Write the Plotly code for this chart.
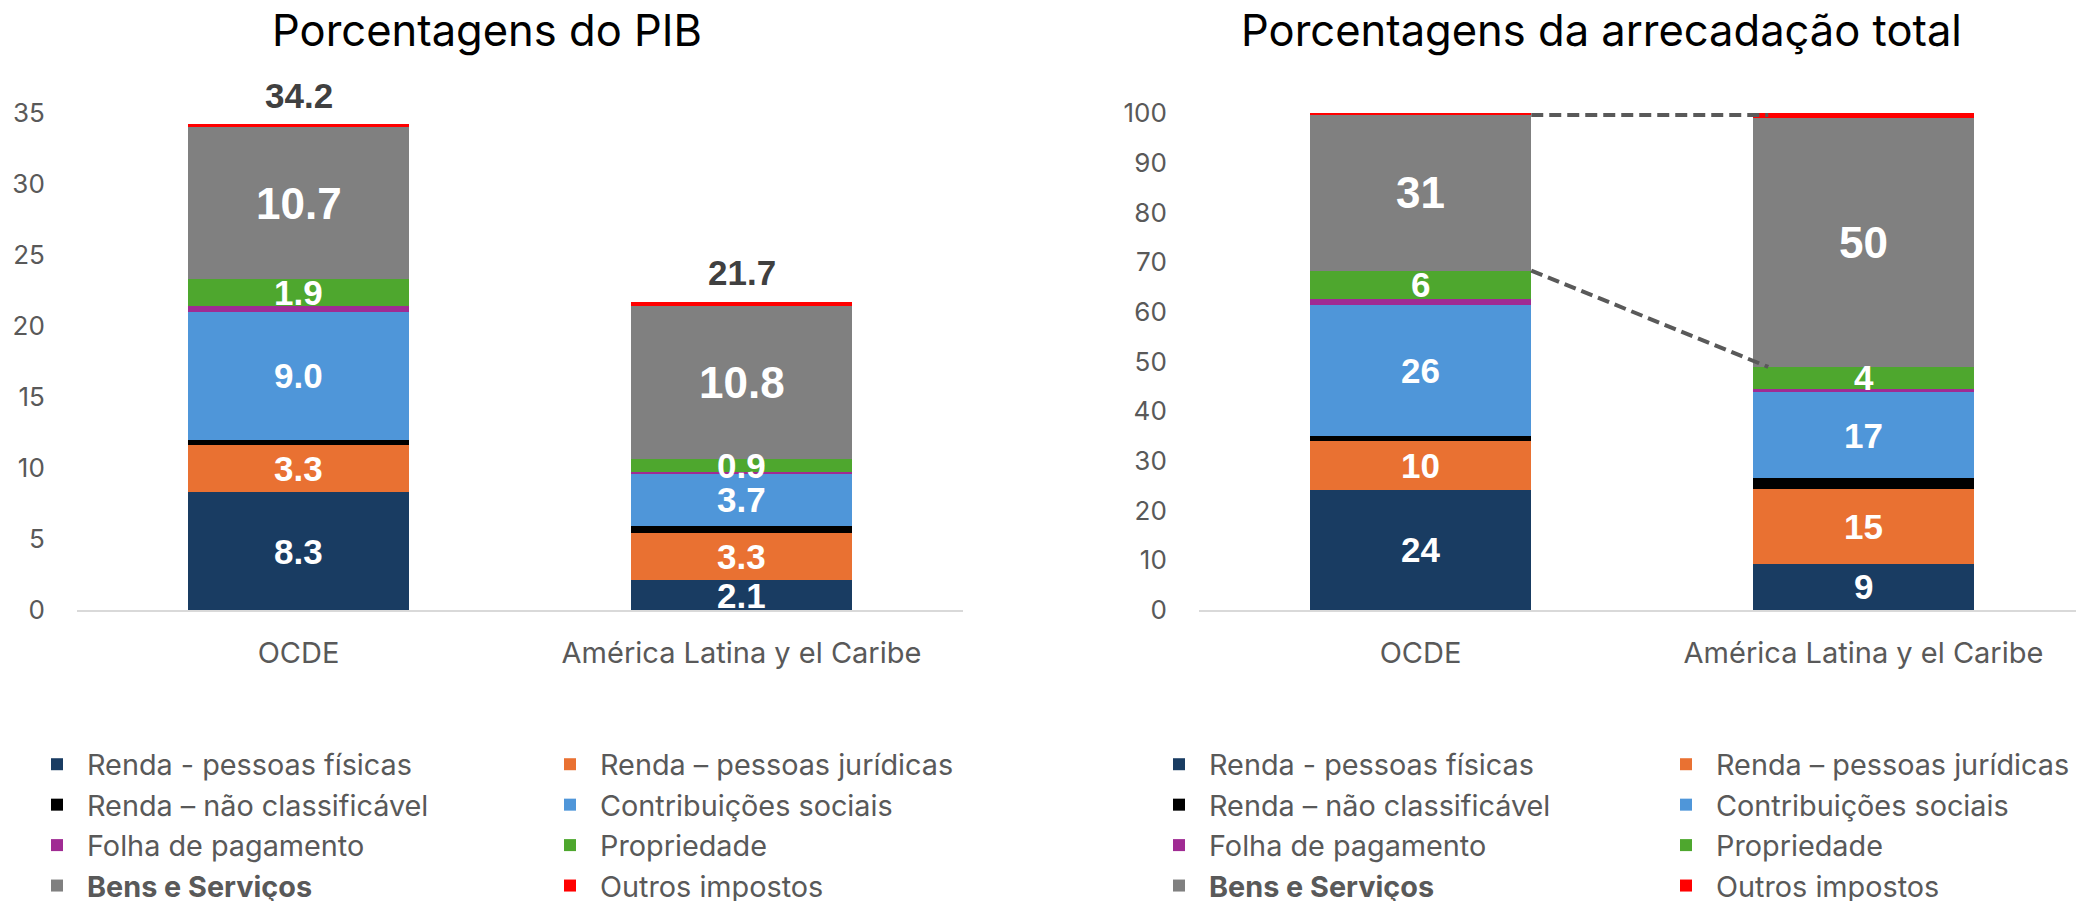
import plotly.graph_objects as go

# ---------------- data ----------------
categories = ["OCDE", "América Latina y el Caribe"]

series_labels = [
    "Renda - pessoas físicas",
    "Renda – pessoas jurídicas",
    "Renda – não classificável",
    "Contribuições sociais",
    "Folha de pagamento",
    "Propriedade",
    "<b>Bens e Serviços</b>",
    "Outros impostos",
]
series_colors = ["#193C62", "#E97132", "#000000", "#4F96D9",
                 "#A02B93", "#4EA72E", "#808080", "#FF0000"]

# % of GDP
pib_renda_pf = [8.3, 2.1]
pib_renda_pj = [3.3, 3.3]
pib_renda_nc = [0.4, 0.5]
pib_contrib = [9.0, 3.7]
pib_folha = [0.4, 0.1]
pib_propriedade = [1.9, 0.9]
pib_bens = [10.7, 10.8]
pib_outros = [0.2, 0.3]

# % of total revenue
tot_renda_pf = [24.2, 9.3]
tot_renda_pj = [9.8, 15.0]
tot_renda_nc = [1.0, 2.3]
tot_contrib = [26.4, 17.2]
tot_folha = [1.1, 0.7]
tot_propriedade = [5.8, 4.4]
tot_bens = [31.3, 50.1]
tot_outros = [0.4, 1.0]

labelled = [True, True, False, True, False, True, True, False]  # which segments show a value

title_left = "Porcentagens do PIB"
title_right = "Porcentagens da arrecadação total"

pib_series = [pib_renda_pf, pib_renda_pj, pib_renda_nc, pib_contrib,
              pib_folha, pib_propriedade, pib_bens, pib_outros]
tot_series = [tot_renda_pf, tot_renda_pj, tot_renda_nc, tot_contrib,
              tot_folha, tot_propriedade, tot_bens, tot_outros]

# ---------------- styling ----------------
W, H = 2076, 901
BAR_W = 0.5
UI_FONT = "Inter"
LBL_FONT = "Liberation Sans"
TICK_COLOR = "#595959"

fig = go.Figure()

def add_panel(series, xa, ya, leg_a, leg_b, fmt, big_idx=6):
    cum = [0.0] * len(categories)
    for i, vals in enumerate(series):
        fig.add_trace(go.Bar(
            x=categories, y=vals, name=series_labels[i],
            marker=dict(color=series_colors[i], line=dict(width=0)),
            width=BAR_W, xaxis=xa, yaxis=ya,
            legend=leg_a if i % 2 == 0 else leg_b,
            hovertemplate="%{x}<br>" + series_labels[i] + ": %{y}<extra></extra>",
        ))
        if labelled[i]:
            for j, v in enumerate(vals):
                fig.add_annotation(
                    x=categories[j], y=cum[j] + v / 2, xref=xa, yref=ya,
                    text="<b>" + format(v, fmt) + "</b>", showarrow=False,
                    font=dict(family=LBL_FONT, size=44 if i == big_idx else 35, color="white"),
                    xanchor="center", yanchor="middle",
                )
        cum = [c + v for c, v in zip(cum, vals)]
    return cum

tot_left = add_panel(pib_series, "x", "y", "legend", "legend2", ".1f")
tot_right = add_panel(tot_series, "x2", "y2", "legend3", "legend4", ".0f")

# totals above the left bars
for j, t in enumerate(tot_left):
    fig.add_annotation(x=categories[j], y=t, xref="x", yref="y", yshift=29,
                       text="<b>" + format(t, ".1f") + "</b>", showarrow=False,
                       font=dict(family=LBL_FONT, size=35, color="#404040"),
                       xanchor="center", yanchor="middle")

# dashed connectors on the right chart
cum_gray = [sum(s[j] for s in tot_series[:7]) for j in range(2)]
cum_prop = [sum(s[j] for s in tot_series[:6]) for j in range(2)]
dash_line = dict(color="#595959", width=4, dash="12px,6px")
fig.add_shape(type="line", xref="x2", yref="y2", x0=BAR_W / 2, x1=1 - BAR_W / 2 + 0.035,
              y0=cum_gray[0], y1=cum_gray[0], line=dash_line)
fig.add_shape(type="line", xref="x2", yref="y2", x0=BAR_W / 2, x1=1 - BAR_W / 2 + 0.035,
              y0=cum_prop[0], y1=cum_prop[1], line=dash_line)

# titles
fig.add_annotation(x=487 / W, y=1 - 30 / H, xref="paper", yref="paper", text=title_left,
                   showarrow=False, font=dict(family=UI_FONT, size=43.5, color="black"),
                   xanchor="center", yanchor="middle")
fig.add_annotation(x=1601 / W, y=1 - 30 / H, xref="paper", yref="paper", text=title_right,
                   showarrow=False, font=dict(family=UI_FONT, size=43.5, color="black"),
                   xanchor="center", yanchor="middle")

ydom = [1 - 610 / H, 1 - 113 / H]
xcommon = dict(type="category", showline=True, linecolor="#D9D9D9", linewidth=2,
               ticks="outside", ticklen=16, tickcolor="rgba(0,0,0,0)",
               tickfont=dict(family=UI_FONT, size=29, color=TICK_COLOR),
               showgrid=False, zeroline=False, fixedrange=True)
ycommon = dict(showgrid=False, zeroline=False, showline=False, ticks="outside",
               ticklen=26, tickcolor="rgba(0,0,0,0)",
               tickfont=dict(family=UI_FONT, size=26, color=TICK_COLOR), fixedrange=True)

legcommon = dict(orientation="v", traceorder="normal", xanchor="left", yanchor="top",
                 font=dict(family=UI_FONT, size=28.8, color=TICK_COLOR),
                 bgcolor="rgba(0,0,0,0)", tracegroupgap=0, itemwidth=50)
ly = 1 - 739 / H

fig.update_layout(
    width=W, height=H, barmode="stack",
    paper_bgcolor="white", plot_bgcolor="white",
    margin=dict(l=0, r=0, t=0, b=0, autoexpand=False),
    xaxis=dict(domain=[77 / W, 963 / W], range=[-0.5, 1.5], anchor="y", **xcommon),
    yaxis=dict(domain=ydom, range=[0, 35], dtick=5, anchor="x", **ycommon),
    xaxis2=dict(domain=[1199 / W, 1.0], range=[-0.5, -0.5 + 877 / 443], anchor="y2", **xcommon),
    yaxis2=dict(domain=ydom, range=[0, 100], dtick=10, anchor="x2", **ycommon),
    legend=dict(x=27 / W, y=ly, **legcommon),
    legend2=dict(x=540 / W, y=ly, **legcommon),
    legend3=dict(x=1149 / W, y=ly, **legcommon),
    legend4=dict(x=1656 / W, y=ly, **legcommon),
)

fig.write_html("out.html", config={"displayModeBar": False},
               post_script="document.body.style.margin='0';document.body.style.overflow='hidden';")
